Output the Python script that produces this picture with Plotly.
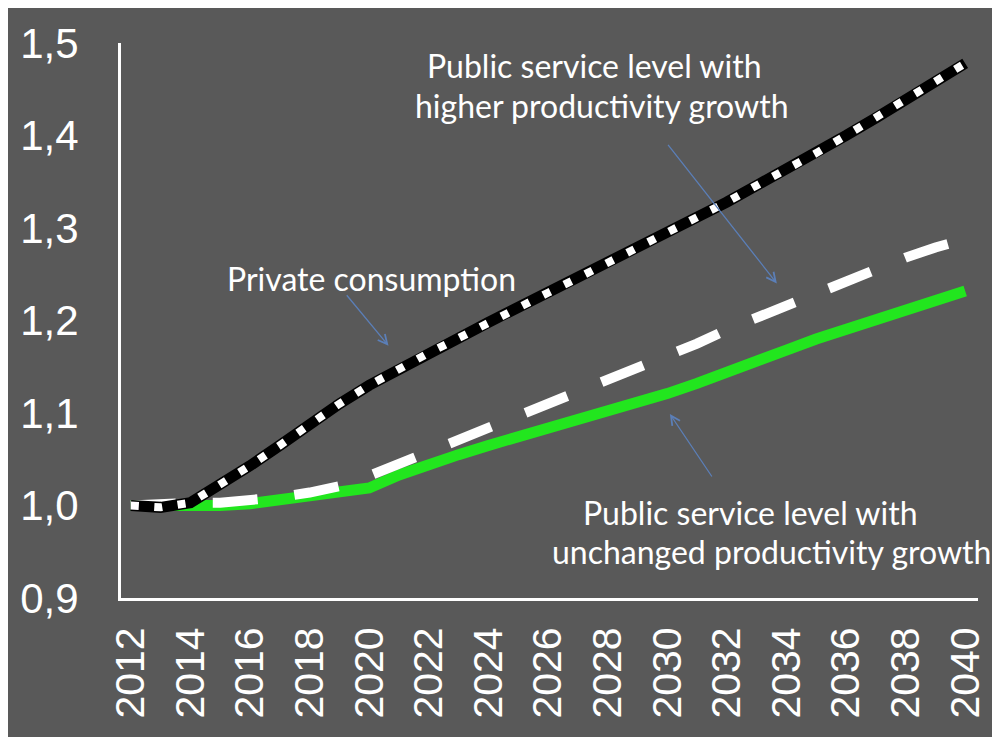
import plotly.graph_objects as go

years = list(range(2012, 2041))

private_consumption = [1.000, 0.998, 1.003, 1.022, 1.043, 1.065, 1.088, 1.110, 1.130, 1.148,
                       1.165, 1.181, 1.198, 1.214, 1.230, 1.246, 1.262, 1.278, 1.295, 1.311,
                       1.328, 1.346, 1.363, 1.381, 1.400, 1.419, 1.438, 1.457, 1.478]

public_higher = [1.000, 1.002, 1.003, 1.003, 1.005, 1.009, 1.014, 1.021, 1.032, 1.045,
                 1.057, 1.070, 1.082, 1.095, 1.108, 1.121, 1.134, 1.147, 1.161, 1.175,
                 1.190, 1.203, 1.216, 1.230, 1.243, 1.256, 1.268, 1.279, 1.288]

public_unchanged = [1.000, 1.000, 0.999, 1.000, 1.002, 1.006, 1.010, 1.014, 1.019, 1.033,
                    1.045, 1.055, 1.065, 1.074, 1.084, 1.093, 1.102, 1.111, 1.121, 1.132,
                    1.145, 1.157, 1.168, 1.180, 1.191, 1.201, 1.211, 1.221, 1.232]

x_tick_vals = list(range(2012, 2041, 2))
x_tick_labels = [str(v) for v in x_tick_vals]
y_tick_vals = [0.9, 1.0, 1.1, 1.2, 1.3, 1.4, 1.5]
y_tick_labels = ["0,9", "1,0", "1,1", "1,2", "1,3", "1,4", "1,5"]

BG = "#595959"
GREEN = "#22E61E"
ARROW = "#5B7FB8"
TXT_FONT = "Lato, 'Open Sans', sans-serif"
TICK_FONT = "'Liberation Sans', Arial, sans-serif"

fig = go.Figure()
fig.add_trace(go.Scatter(x=years, y=public_unchanged, mode="lines",
                         line=dict(color=GREEN, width=11), hoverinfo="skip",
                         name="Public service level with unchanged productivity growth"))
fig.add_trace(go.Scatter(x=years, y=public_higher, mode="lines",
                         line=dict(color="white", width=10, dash="45px,37px"), hoverinfo="skip",
                         name="Public service level with higher productivity growth"))
fig.add_trace(go.Scatter(x=years, y=private_consumption, mode="lines",
                         line=dict(color="black", width=11), hoverinfo="skip",
                         name="Private consumption"))
fig.add_trace(go.Scatter(x=years, y=private_consumption, mode="lines",
                         line=dict(color="white", width=8, dash="8px,15.5px"), hoverinfo="skip",
                         name="Private consumption dots"))

W, H = 1000, 737
OFF = 8  # page body offset
# plot area in screen pixels
PX0, PX1, PY0, PY1 = 113, 978, 37, 598
L = PX0 - OFF
T = PY0 - OFF
R = W + OFF - PX1
B = H + OFF - PY1
pw, ph = PX1 - PX0, PY1 - PY0


def px(x):
    return (x - PX0) / pw


def py(y):
    return (PY1 - y) / ph


text_font = dict(family=TXT_FONT, size=32, color="white")
annotations = [
    dict(text="Private consumption", x=px(366), y=py(275)),
    dict(text="Public service level with", x=px(591), y=py(60)),
    dict(text="higher productivity growth", x=px(598), y=py(100)),
    dict(text="Public service level with", x=px(748), y=py(512)),
    dict(text="unchanged productivity growth", x=px(770), y=py(551)),
]
for a in annotations:
    fig.add_annotation(xref="paper", yref="paper", xanchor="center", yanchor="middle",
                       showarrow=False, font=text_font, align="center", **a)

arrows = [
    (383, 343, -43, -52),
    (775, 280, -110, -140),
    (667, 412, 43, 64),
]
for hx, hy, axo, ayo in arrows:
    fig.add_annotation(xref="paper", yref="paper", x=px(hx), y=py(hy), ax=axo, ay=ayo,
                       text="", showarrow=True, arrowhead=5, arrowsize=1.4, arrowwidth=1.3,
                       arrowcolor=ARROW, standoff=0, startstandoff=0)

fig.update_layout(
    width=W, height=H,
    margin=dict(l=L, r=R, t=T, b=B),
    paper_bgcolor=BG, plot_bgcolor=BG,
    showlegend=False,
    xaxis=dict(range=[2011.67, 2040.43], tickvals=x_tick_vals, ticktext=x_tick_labels,
               tickangle=-90, showgrid=False, zeroline=False, showline=True,
               linecolor="white", linewidth=3, ticks="outside", ticklen=10,
               tickcolor="rgba(0,0,0,0)",
               tickfont=dict(family=TICK_FONT, size=41, color="white")),
    yaxis=dict(range=[0.9, 1.5], tickvals=y_tick_vals, ticktext=y_tick_labels,
               showgrid=False, zeroline=False, showline=True,
               linecolor="white", linewidth=3, ticks="outside", ticklen=31,
               tickcolor="rgba(0,0,0,0)",
               tickfont=dict(family=TICK_FONT, size=42, color="white")),
)

fig.write_html("out.html")
